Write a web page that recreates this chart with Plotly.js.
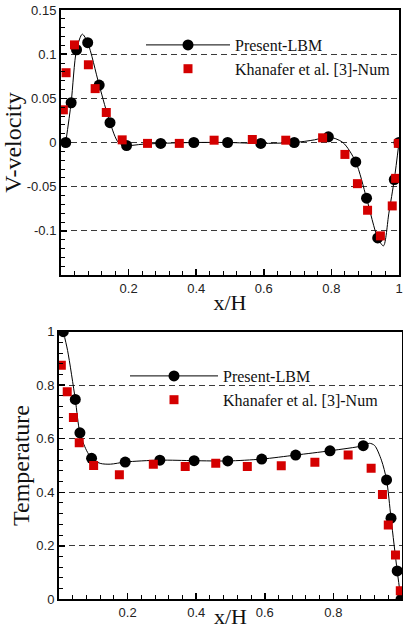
<!DOCTYPE html>
<html><head><meta charset="utf-8">
<script src="https://cdn.plot.ly/plotly-3.0.1.min.js"></script>
<style>html,body{margin:0;padding:0;background:#fff}#chart{width:403px;height:629px}</style>
</head><body><div id="chart"></div>
<script>
// ---- V-velocity (top panel) ----
const vLbmX = [0.014, 0.03, 0.046, 0.079, 0.113, 0.145, 0.194, 0.295, 0.393, 0.493, 0.591, 0.69, 0.791, 0.872, 0.904, 0.937, 0.986, 1.0];
const vLbmY = [0, 0.045, 0.105, 0.113, 0.065, 0.0225, -0.0034, -0.001, 0, 0, -0.001, 0, 0.0064, -0.022, -0.063, -0.108, -0.042, 0];
const vCurveX = [0.014, 0.03, 0.046, 0.063, 0.079, 0.113, 0.145, 0.17, 0.194, 0.24, 0.295, 0.393, 0.493, 0.591, 0.69, 0.75, 0.791, 0.834, 0.872, 0.904, 0.937, 0.954, 0.97, 0.986, 1.0];
const vCurveY = [0, 0.045, 0.105, 0.1226, 0.113, 0.065, 0.0225, 0, -0.0034, -0.002, -0.001, 0, 0, -0.001, 0, 0.003, 0.0064, 0, -0.022, -0.063, -0.108, -0.117, -0.08, -0.042, 0];
const vNumX = [0.007, 0.015, 0.04, 0.081, 0.101, 0.134, 0.181, 0.256, 0.35, 0.453, 0.566, 0.665, 0.774, 0.840, 0.877, 0.907, 0.945, 0.980, 0.990, 0.998];
const vNumY = [0.037, 0.079, 0.1105, 0.088, 0.061, 0.034, 0.003, -0.001, -0.001, 0.0026, 0.0034, 0.0026, 0.0053, -0.0135, -0.0466, -0.0767, -0.1057, -0.0718, -0.0406, -0.001];

// ---- Temperature (bottom panel) ----
const tLbmX = [0.0125, 0.0475, 0.061, 0.095, 0.193, 0.294, 0.394, 0.492, 0.591, 0.69, 0.79, 0.887, 0.955, 0.968, 0.986, 0.997];
const tLbmY = [1.0, 0.747, 0.622, 0.527, 0.513, 0.52, 0.518, 0.517, 0.524, 0.539, 0.555, 0.574, 0.446, 0.303, 0.106, 0];
const tCurveX = [0.0125, 0.025, 0.0475, 0.061, 0.08, 0.095, 0.12, 0.15, 0.193, 0.294, 0.394, 0.492, 0.591, 0.69, 0.79, 0.887, 0.905, 0.92, 0.94, 0.955, 0.968, 0.986, 0.997];
const tCurveY = [1.0, 0.93, 0.747, 0.622, 0.557, 0.527, 0.508, 0.505, 0.513, 0.52, 0.518, 0.517, 0.524, 0.539, 0.555, 0.574, 0.583, 0.575, 0.52, 0.446, 0.303, 0.106, 0];
const tNumX = [0.0068, 0.024, 0.042, 0.059, 0.101, 0.176, 0.275, 0.368, 0.457, 0.549, 0.648, 0.746, 0.843, 0.91, 0.943, 0.96, 0.981, 0.995];
const tNumY = [0.875, 0.776, 0.679, 0.585, 0.5, 0.465, 0.505, 0.496, 0.508, 0.496, 0.499, 0.512, 0.539, 0.49, 0.392, 0.278, 0.166, 0.032];

// ---- ticks ----
const xTickVals = [0.2, 0.4, 0.6, 0.8, 1];
const xTickText = ["0.2", "0.4", "0.6", "0.8", "1"];
const vTickVals = [-0.1, -0.05, 0, 0.05, 0.1, 0.15];
const vTickText = ["-0.1", "-0.05", "0", "0.05", "0.1", "0.15"];
const tTickVals = [0, 0.2, 0.4, 0.6, 0.8, 1];
const tTickText = ["0", "0.2", "0.4", "0.6", "0.8", "1"];

const nameLbm = "Present-LBM";
const nameNum = "Khanafer et al. [3]-Num";

// split points with gaps so the legend shows line+marker but no line joins the markers
function gapped(arr) { const out = []; arr.forEach((v, i) => { if (i) out.push(null); out.push(v); }); return out; }

const SANS = "Liberation Sans, Arial, sans-serif";
const SERIF = "Liberation Serif, Times New Roman, serif";
const W = 403, H = 629;
const M = {l: 0, r: 0, t: 0, b: 24};
const fx = px => (px - M.l) / (W - M.l - M.r);
const fy = py => (H - M.b - py) / (H - M.b - M.t);

const traces = [
  {x: vCurveX, y: vCurveY, xaxis: 'x', yaxis: 'y', mode: 'lines', line: {color: '#000', width: 1, shape: 'spline', smoothing: 0.8}, showlegend: false, hoverinfo: 'skip'},
  {x: gapped(vLbmX), y: gapped(vLbmY), xaxis: 'x', yaxis: 'y', name: nameLbm, mode: 'lines+markers', connectgaps: false,
   line: {color: '#000', width: 1}, marker: {symbol: 'circle', size: 11, color: '#000'}, legend: 'legend'},
  {x: vNumX, y: vNumY, xaxis: 'x', yaxis: 'y', name: nameNum, mode: 'markers',
   marker: {symbol: 'square', size: 9, color: '#d40000'}, legend: 'legend'},
  {x: tCurveX, y: tCurveY, xaxis: 'x2', yaxis: 'y2', mode: 'lines', line: {color: '#000', width: 1, shape: 'spline', smoothing: 0.8}, showlegend: false, hoverinfo: 'skip'},
  {x: gapped(tLbmX), y: gapped(tLbmY), xaxis: 'x2', yaxis: 'y2', name: nameLbm, mode: 'lines+markers', connectgaps: false,
   line: {color: '#000', width: 1}, marker: {symbol: 'circle', size: 11, color: '#000'}, legend: 'legend2'},
  {x: tNumX, y: tNumY, xaxis: 'x2', yaxis: 'y2', name: nameNum, mode: 'markers',
   marker: {symbol: 'square', size: 9, color: '#d40000'}, legend: 'legend2'}
];

function xAxis(domain, anchor, standoff) {
  return {
    domain: domain, anchor: anchor, range: [0, 1], tickmode: 'array', tickvals: xTickVals, ticktext: xTickText,
    ticks: 'inside', ticklen: 6, tickwidth: 1.5, tickcolor: '#000',
    minor: {tickmode: 'linear', tick0: 0, dtick: 0.04, ticks: 'inside', ticklen: 4, tickwidth: 1, tickcolor: '#000', showgrid: false},
    showline: true, linewidth: 2, linecolor: '#000', mirror: true, showgrid: false, zeroline: false,
    tickfont: {family: SANS, size: 13, color: '#222'},
    title: {text: 'x/H', font: {family: SERIF, size: 22, color: '#111'}, standoff: standoff},
    automargin: false
  };
}
function yAxis(domain, anchor, range, vals, text, minorDt, title) {
  return {
    domain: domain, anchor: anchor, range: range, tickmode: 'array', tickvals: vals, ticktext: text,
    ticks: 'inside', ticklen: 6, tickwidth: 1.5, tickcolor: '#000',
    minor: {tickmode: 'linear', tick0: 0, dtick: minorDt, ticks: 'inside', ticklen: 4, tickwidth: 1, tickcolor: '#000', showgrid: false},
    showline: true, linewidth: 2, linecolor: '#000', mirror: true,
    showgrid: true, gridcolor: '#3a3a3a', gridwidth: 1, griddash: '6px,4px', zeroline: false,
    tickfont: {family: SANS, size: 13, color: '#222'},
    title: {text: title, font: {family: SERIF, size: 24, color: '#111'}, standoff: 0},
    automargin: false
  };
}

const layout = {
  width: W, height: H, autosize: false,
  margin: M,
  paper_bgcolor: '#fff', plot_bgcolor: '#fff',
  showlegend: true,
  xaxis: xAxis([fx(61), fx(399)], 'y', 0),
  yaxis: yAxis([fy(275), fy(10)], 'x', [-0.15, 0.15], vTickVals, vTickText, 0.01, 'V-velocity'),
  xaxis2: xAxis([fx(59), fx(402)], 'y2', 5),
  yaxis2: yAxis([fy(599.3), fy(331.7)], 'x2', [0, 1], tTickVals, tTickText, 0.04, 'Temperature'),
  legend: {x: fx(141), y: fy(28), xanchor: 'left', yanchor: 'top', bgcolor: 'rgba(0,0,0,0)', borderwidth: 0,
           itemwidth: 84, font: {family: SERIF, size: 16, color: '#111'}, traceorder: 'normal'},
  legend2: {x: fx(125), y: fy(359), xanchor: 'left', yanchor: 'top', bgcolor: 'rgba(0,0,0,0)', borderwidth: 0,
           itemwidth: 88, font: {family: SERIF, size: 16, color: '#111'}, traceorder: 'normal'}
};

Plotly.newPlot('chart', traces, layout, {displayModeBar: false, staticPlot: true});
</script>
</body></html>
